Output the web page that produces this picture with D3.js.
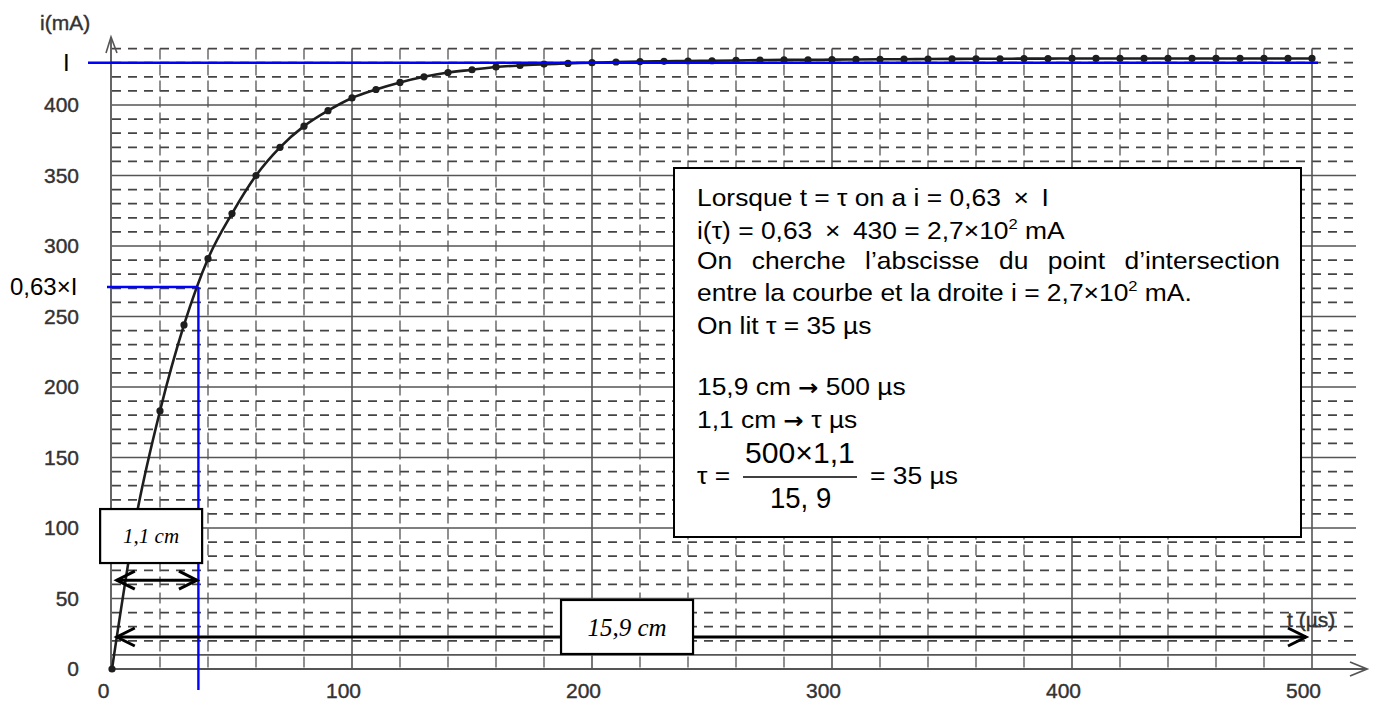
<!DOCTYPE html>
<html>
<head>
<meta charset="utf-8">
<script src="https://cdn.jsdelivr.net/npm/d3@7"></script>
<style>
    body { margin: 0; background: #fff; }
    svg { display: block; }
</style>
</head>
<body>
<svg id="chart" width="1377" height="707"></svg>
<script>
/* global d3 */

var timeUs = [0, 10, 20, 30, 40, 50, 60, 70, 80, 90,
    100, 110, 120, 130, 140, 150, 160, 170, 180, 190,
    200, 210, 220, 230, 240, 250, 260, 270, 280, 290,
    300, 310, 320, 330, 340, 350, 360, 370, 380, 390,
    400, 410, 420, 430, 440, 450, 460, 470, 480, 490, 500];
var currentMA = [0, 107, 183, 244, 291, 323, 350, 370, 385, 396,
    405, 411, 416, 420, 423, 425, 427, 428, 429, 429.5,
    430, 430.5, 430.8, 431, 431.2, 431.4, 431.6, 431.8, 432, 432,
    432.2, 432.3, 432.4, 432.5, 432.6, 432.7, 432.8, 432.8, 432.9, 432.9,
    433, 433, 433, 433, 433, 433, 433, 433, 433, 433, 433];

var xTickValues = [0, 100, 200, 300, 400, 500];
var yTickValues = [0, 50, 100, 150, 200, 250, 300, 350, 400];
var xMajorGrid = [100, 200, 300, 400, 500];
var xMinorGrid = [20, 40, 60, 80, 120, 140, 160, 180, 220, 240, 260, 280,
    320, 340, 360, 380, 420, 440, 460, 480];
var yMajorGrid = [10, 50, 100, 150, 200, 250, 300, 350, 400];
var yMinorGrid = [20, 30, 40, 60, 70, 80, 90, 110, 120, 130, 140, 160, 170, 180, 190,
    210, 220, 230, 240, 260, 270, 280, 290, 310, 320, 330, 340, 360, 370, 380, 390,
    410, 420, 430, 440];

var currentMax = 430;       // I
var ratio = 0.63;
var tauRead = 36;           // abscisse

// "|x|" = exposant, "~" = flèche
var boxLines = [
    "Lorsque t = \u03c4 on a i = 0,63\u2009 \u00d7 \u2009I",
    "i(\u03c4) = 0,63\u2009 \u00d7 \u2009430 = 2,7\u00d710|2| mA",
    "On cherche l\u2019abscisse du point d\u2019intersection",
    "entre la courbe et la droite i = 2,7\u00d710|2| mA.",
    "On lit \u03c4 = 35 \u00b5s",
    "",
    "15,9 cm ~ 500 \u00b5s",
    "1,1 cm ~ \u03c4 \u00b5s"
];

var fontSans = "'Liberation Sans', Arial, sans-serif",
    fontSerif = "'Liberation Serif', 'Times New Roman', serif",
    gridTop = 440,
    gridRight = 1356;

var svg = d3.select("#chart");

var xScale = d3.scaleLinear().domain([0, 500]).range([112, 1312]);
var yScale = d3.scaleLinear().domain([0, 400]).range([669, 105]);

var grid = svg.append("g").attr("class", "grid");

// horizontal lines
grid.selectAll(".hmin").data(yMinorGrid).enter().append("line")
    .attr("x1", xScale(0)).attr("x2", gridRight)
    .attr("y1", function(d) { return yScale(d); })
    .attr("y2", function(d) { return yScale(d); })
    .attr("stroke", "#444").attr("stroke-width", 1.7)
    .attr("stroke-dasharray", "9,7");

grid.selectAll(".hmaj").data(yMajorGrid).enter().append("line")
    .attr("x1", xScale(0)).attr("x2", gridRight)
    .attr("y1", function(d) { return yScale(d); })
    .attr("y2", function(d) { return yScale(d); })
    .attr("stroke", "#555").attr("stroke-width", 1.6);

// vertical lines
grid.selectAll(".vmin").data(xMinorGrid).enter().append("line")
    .attr("x1", function(d) { return xScale(d); })
    .attr("x2", function(d) { return xScale(d); })
    .attr("y1", yScale(gridTop)).attr("y2", yScale(0))
    .attr("stroke", "#555").attr("stroke-width", 1.3)
    .attr("stroke-dasharray", "11,5");

grid.selectAll(".vmaj").data(xMajorGrid).enter().append("line")
    .attr("x1", function(d) { return xScale(d); })
    .attr("x2", function(d) { return xScale(d); })
    .attr("y1", yScale(gridTop)).attr("y2", yScale(0))
    .attr("stroke", "#555").attr("stroke-width", 1.6);

// axes with open arrow heads
var axisColor = "#555";
svg.append("line")
    .attr("x1", xScale(0)).attr("x2", 1366)
    .attr("y1", yScale(0)).attr("y2", yScale(0))
    .attr("stroke", axisColor).attr("stroke-width", 1.8);
svg.append("path")
    .attr("d", "M1350," + (yScale(0) - 7) + "L1367," + yScale(0) + "L1350," + (yScale(0) + 7))
    .attr("fill", "none").attr("stroke", axisColor).attr("stroke-width", 1.8);

svg.append("line")
    .attr("x1", xScale(0) - 1).attr("x2", xScale(0) - 1)
    .attr("y1", yScale(0)).attr("y2", 38)
    .attr("stroke", axisColor).attr("stroke-width", 1.8);
svg.append("path")
    .attr("d", "M" + (xScale(0) - 6) + ",53L" + (xScale(0) - 1) + ",37L" + (xScale(0) + 5) + ",53")
    .attr("fill", "none").attr("stroke", axisColor).attr("stroke-width", 1.6);

// tick labels
var yAxis = svg.append("g")
    .attr("transform", "translate(" + xScale(0) + ",0)")
    .call(d3.axisLeft(yScale).tickValues(yTickValues).tickSize(0).tickPadding(33));
var xAxis = svg.append("g")
    .attr("transform", "translate(-9," + yScale(0) + ")")
    .call(d3.axisBottom(xScale).tickValues(xTickValues).tickSize(0).tickPadding(14));

[yAxis, xAxis].forEach(function(a) {
    a.select(".domain").remove();
    a.selectAll("text")
        .style("font-family", fontSans)
        .style("font-size", "21px")
        .attr("fill", "#333")
        .attr("stroke", "#333")
        .attr("stroke-width", 0.4);
});

svg.append("text").attr("x", 40).attr("y", 30)
    .style("font-family", fontSans).style("font-size", "21px")
    .attr("fill", "#333").attr("stroke", "#333").attr("stroke-width", 0.4)
    .text("i(mA)");

svg.append("text").attr("x", 1287).attr("y", 627)
    .style("font-family", fontSans).style("font-size", "21px")
    .attr("fill", "#333").attr("stroke", "#333").attr("stroke-width", 0.4)
    .text("t (\u00b5s)");

// the curve
var line = d3.line()
    .x(function(d, i) { return xScale(timeUs[i]); })
    .y(function(d) { return yScale(d); })
    .curve(d3.curveMonotoneX);

svg.append("path")
    .datum(currentMA)
    .attr("d", line)
    .attr("fill", "none")
    .attr("stroke", "#1e1e1e")
    .attr("stroke-width", 2.6);

svg.selectAll(".dot").data(currentMA).enter().append("circle")
    .attr("cx", function(d, i) { return xScale(timeUs[i]); })
    .attr("cy", function(d) { return yScale(d); })
    .attr("r", 3.6)
    .attr("fill", "#1e1e1e");

// blue construction lines
var blue = "#0000ff";
svg.append("line")
    .attr("x1", 88).attr("x2", 1318)
    .attr("y1", yScale(currentMax)).attr("y2", yScale(currentMax))
    .attr("stroke", blue).attr("stroke-width", 2.4);
svg.append("line")
    .attr("x1", 107).attr("x2", xScale(tauRead))
    .attr("y1", yScale(ratio * currentMax)).attr("y2", yScale(ratio * currentMax))
    .attr("stroke", blue).attr("stroke-width", 2.4);
svg.append("line")
    .attr("x1", xScale(tauRead)).attr("x2", xScale(tauRead))
    .attr("y1", yScale(ratio * currentMax)).attr("y2", 690)
    .attr("stroke", blue).attr("stroke-width", 2.4);

svg.append("text").attr("x", 63).attr("y", yScale(currentMax))
    .attr("dy", "0.35em")
    .style("font-family", fontSans).style("font-size", "24px")
    .text("I");
svg.append("text").attr("x", 10).attr("y", yScale(ratio * currentMax))
    .attr("dy", "0.35em")
    .style("font-family", fontSans).style("font-size", "24px")
    .text("0,63\u00d7I");

// double arrows
function doubleArrow(t1, t2, iv) {
    var y = yScale(iv), x1 = xScale(t1), x2 = xScale(t2);
    var g = svg.append("g")
        .attr("fill", "none").attr("stroke", "#000").attr("stroke-width", 3);
    g.append("line").attr("x1", x1).attr("x2", x2).attr("y1", y).attr("y2", y);
    g.append("path").attr("d", "M" + (x1 + 18) + "," + (y - 9) + "L" + x1 + "," + y + "L" + (x1 + 18) + "," + (y + 9));
    g.append("path").attr("d", "M" + (x2 - 18) + "," + (y - 9) + "L" + x2 + "," + y + "L" + (x2 - 18) + "," + (y + 9));
}
doubleArrow(2, 35.4, 63);
doubleArrow(2, 497.5, 22.7);

function labelBox(tc, ic, w, h, label, size) {
    var cx = xScale(tc), cy = yScale(ic);
    svg.append("rect")
        .attr("x", cx - w / 2).attr("y", cy - h / 2)
        .attr("width", w).attr("height", h)
        .attr("fill", "#fff").attr("stroke", "#000").attr("stroke-width", 2.2);
    svg.append("text")
        .attr("x", cx).attr("y", cy).attr("dy", "0.35em")
        .attr("text-anchor", "middle")
        .style("font-family", fontSerif).style("font-style", "italic")
        .style("font-size", size + "px")
        .text(label);
}
labelBox(16.3, 94.3, 102, 54, "1,1 cm", 21);
labelBox(214.6, 29.8, 132, 54, "15,9 cm", 25);

// explanation box
var box = { x: 674, y: 168, w: 627, h: 369, left: 697, right: 1280 };
var baselines = [206, 239, 269, 301, 334, 0, 395, 428];
var fs = 24;

svg.append("rect")
    .attr("x", box.x).attr("y", box.y).attr("width", box.w).attr("height", box.h)
    .attr("fill", "#fff").attr("stroke", "#000").attr("stroke-width", 2);

function boxText(x, y, size, sx) {
    sx = sx || 1.1;
    return svg.append("text")
        .attr("transform", "translate(" + x + "," + y + ") scale(" + sx + ",1)")
        .style("font-family", fontSans)
        .style("font-size", size + "px")
        .attr("fill", "#000");
}

function addPiece(t, p) {
    var bits = p.split("~");
    bits.forEach(function(b, j) {
        if (j > 0) {
            t.append("tspan")
                .style("font-family", "'DejaVu Sans', sans-serif")
                .style("font-weight", "bold")
                .style("font-size", "22px")
                .text("\u2192");
        }
        if (b) t.append("tspan").text(b);
    });
}

boxLines.forEach(function(s, k) {
    if (!s) return;
    if (k === 2) {
        // justified line
        var words = s.split(" ");
        var lens = words.map(function(w) {
            var t = boxText(0, -100, fs).text(w);
            var len = t.node().getComputedTextLength() * 1.1;
            t.remove();
            return len;
        });
        var gap = (box.right - box.left - d3.sum(lens)) / (words.length - 1);
        var xPos = box.left;
        words.forEach(function(w, j) {
            boxText(xPos, baselines[k], fs).text(w);
            xPos += lens[j] + gap;
        });
        return;
    }
    var t = boxText(box.left, baselines[k], fs);
    var parts = s.split("|");
    parts.forEach(function(p, j) {
        if (j % 2 === 1) {
            t.append("tspan").attr("dy", -10).style("font-size", "15px").text(p);
        } else if (j > 0) {
            t.append("tspan").attr("dy", 10).text(p);
        } else {
            addPiece(t, p);
        }
    });
});

// fraction
boxText(box.left, 484, fs).text("\u03c4 =");
boxText(745, 463, 29, 1.04).text("500\u00d71,1");
boxText(770, 508, 29, 0.95).text("15, 9");
svg.append("line")
    .attr("x1", 743).attr("x2", 857).attr("y1", 477).attr("y2", 477)
    .attr("stroke", "#000").attr("stroke-width", 1.5);
boxText(870, 484, fs).text("= 35 \u00b5s");
</script>
</body>
</html>
